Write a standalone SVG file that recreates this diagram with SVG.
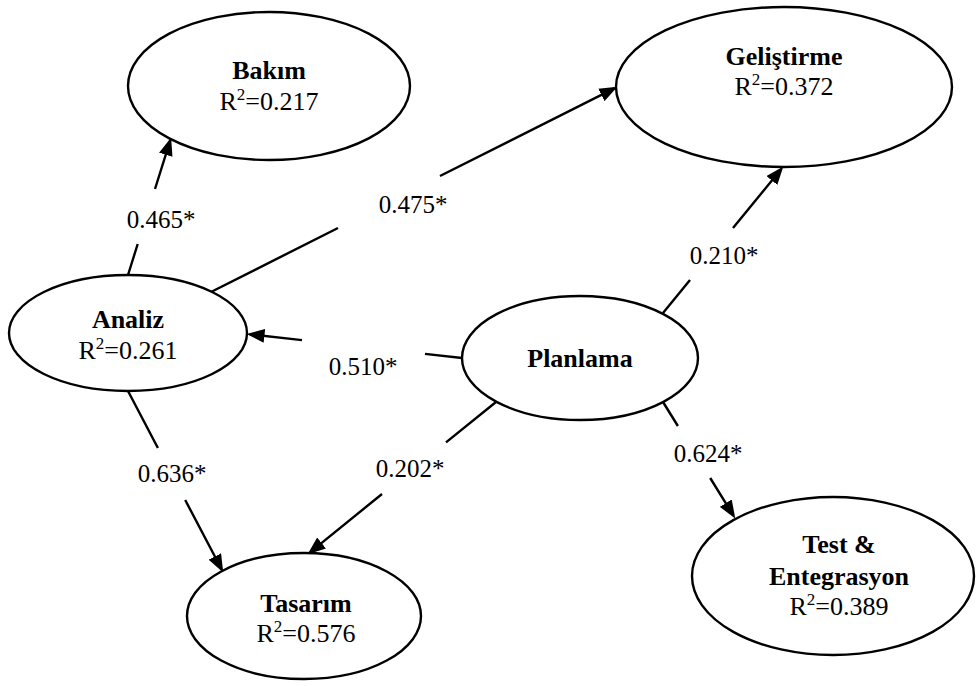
<svg xmlns="http://www.w3.org/2000/svg" width="976" height="686" viewBox="0 0 976 686">
  <style>
    .node ellipse { fill: #ffffff; stroke: #000000; stroke-width: 2.4; }
    .name { font-family: "Liberation Serif", "Times New Roman", serif; font-size: 26px; font-weight: bold; fill: #000000; text-anchor: middle; }
    .r2 { font-family: "Liberation Serif", "Times New Roman", serif; font-size: 26px; fill: #000000; text-anchor: middle; }
    .sup { font-size: 17px; }
    .coef { font-family: "Liberation Serif", "Times New Roman", serif; font-size: 25px; fill: #000000; text-anchor: middle; }
    .edge { fill: none; stroke: #000000; stroke-width: 2.4; marker-end: url(#arrow); }
  </style>
  <defs>
    <marker id="arrow" markerUnits="userSpaceOnUse" markerWidth="18" markerHeight="14" refX="14.5" refY="7" orient="auto">
      <path d="M0,0 L18,7 L0,14 Z" fill="#000000"/>
    </marker>
  </defs>
  <rect width="976" height="686" fill="#ffffff"/>

  <!-- path coefficients: each connector is broken where its label sits -->
  <g id="connectors">
    <path class="edge" d="M128,275 L137.7,244 M155,189 L170.1,140.9"/>
    <path class="edge" d="M209,293 L338,228 M440,176 L614.3,88.4"/>
    <path class="edge" d="M462,358 L425,353.9 M302,340.1 L250,334.3"/>
    <path class="edge" d="M663,313 L690,280 M733,227.9 L781.1,169.3"/>
    <path class="edge" d="M128,391 L157.9,448 M185.2,500 L221.6,569.3"/>
    <path class="edge" d="M496,402 L446,442.4 M382,494 L310.3,552.1"/>
    <path class="edge" d="M663,402 L677.9,426 M710.2,478 L733.4,515.5"/>
    <text class="coef" x="161" y="228">0.465*</text>
    <text class="coef" x="413" y="213">0.475*</text>
    <text class="coef" x="363" y="375">0.510*</text>
    <text class="coef" x="724" y="264">0.210*</text>
    <text class="coef" x="172" y="482">0.636*</text>
    <text class="coef" x="410" y="477">0.202*</text>
    <text class="coef" x="708" y="462">0.624*</text>
  </g>

  <g id="bakim" class="node">
    <ellipse cx="269" cy="86" rx="141" ry="74"/>
    <text class="name" x="269" y="79">Bakım</text>
    <text class="r2" x="269" y="110">R<tspan class="sup" dy="-10">2</tspan><tspan dy="10">=0.217</tspan></text>
  </g>

  <g id="gelistirme" class="node">
    <ellipse cx="784" cy="87" rx="168" ry="80"/>
    <text class="name" x="784" y="65">Geliştirme</text>
    <text class="r2" x="784" y="95">R<tspan class="sup" dy="-10">2</tspan><tspan dy="10">=0.372</tspan></text>
  </g>

  <g id="analiz" class="node">
    <ellipse cx="128" cy="333" rx="119" ry="58"/>
    <text class="name" x="128" y="328">Analiz</text>
    <text class="r2" x="128" y="359">R<tspan class="sup" dy="-10">2</tspan><tspan dy="10">=0.261</tspan></text>
  </g>

  <g id="planlama" class="node">
    <ellipse cx="580" cy="358" rx="118" ry="62"/>
    <text class="name" x="580" y="367">Planlama</text>
  </g>

  <g id="tasarim" class="node">
    <ellipse cx="304" cy="616" rx="117" ry="63"/>
    <text class="name" x="306" y="612">Tasarım</text>
    <text class="r2" x="306" y="642">R<tspan class="sup" dy="-10">2</tspan><tspan dy="10">=0.576</tspan></text>
  </g>

  <g id="test-entegrasyon" class="node">
    <ellipse cx="833" cy="576" rx="141" ry="79"/>
    <text class="name" x="839" y="553">Test &amp;</text>
    <text class="name" x="839" y="585">Entegrasyon</text>
    <text class="r2" x="839" y="615">R<tspan class="sup" dy="-10">2</tspan><tspan dy="10">=0.389</tspan></text>
  </g>
</svg>
